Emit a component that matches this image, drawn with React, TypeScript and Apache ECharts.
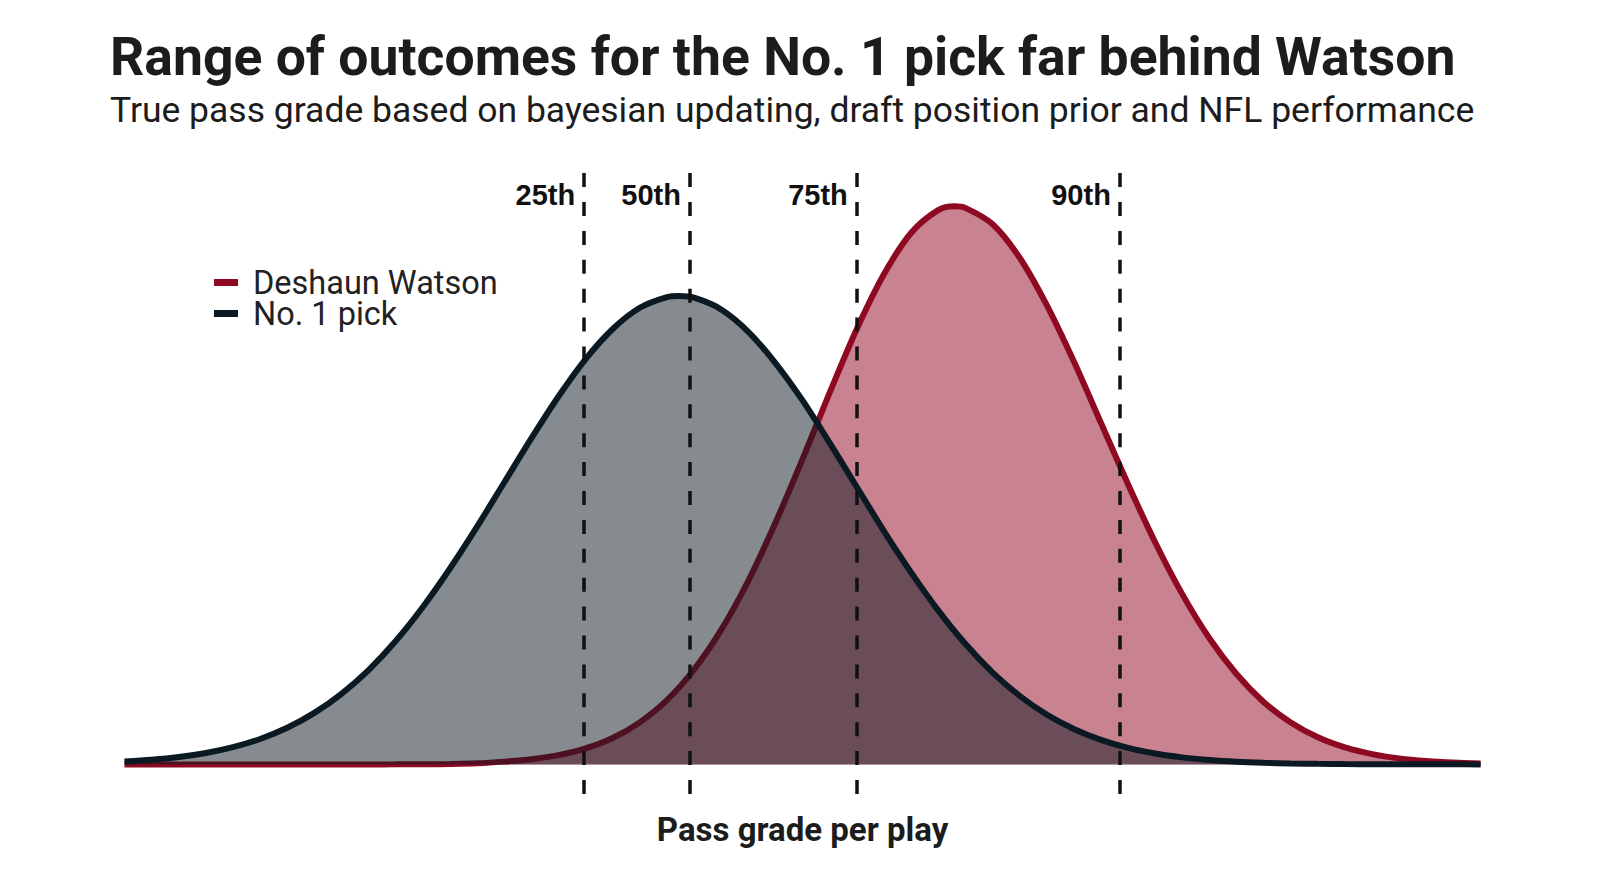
import React, { useEffect, useRef } from "react";
import * as echarts from "echarts";

const TITLE = "Range of outcomes for the No. 1 pick far behind Watson";
const SUBTITLE = "True pass grade based on bayesian updating, draft position prior and NFL performance";
const X_NAME = "Pass grade per play";
const SERIES_NAMES = ["Deshaun Watson", "No. 1 pick"];

// abstract pass-grade positions (hidden axis)
const watsonX = [
  0, 2, 4, 6, 8, 10, 12, 14, 16, 18, 20, 22, 24, 26, 28, 30, 32, 34, 36, 38, 40,
  42, 44, 46, 48, 50, 52, 54, 56, 58, 60, 61.2, 62, 64, 66, 68, 70, 72, 74, 76, 78, 80,
  82, 84, 86, 88, 90, 92, 94, 96, 98, 100,
];
const watsonDensity = [
  0, 0, 0, 0, 0, 0, 0, 0, 0, 0, 0.01, 0.03, 0.08, 0.2, 0.5, 0.93, 1.66, 2.86, 4.73, 7.53, 11.5,
  17.0, 24.1, 32.9, 43.3, 54.7, 66.6, 78.0, 87.8, 95.2, 99.3, 100, 99.7, 96.8, 90.8, 82.3, 72.2, 61.2, 50.2, 39.8, 30.5, 22.6,
  16.2, 11.2, 7.52, 4.87, 3.05, 1.85, 1.08, 0.61, 0.33, 0.18,
];

const pickX = [
  0, 2, 4, 6, 8, 10, 12, 14, 16, 18, 20, 22, 24, 26, 28, 30, 32, 34, 36, 38, 40, 40.9,
  42, 44, 46, 48, 50, 52, 54, 56, 58, 60, 62, 64, 66, 68, 70, 72, 74, 76, 78, 80,
  82, 84, 86, 88, 90, 92, 94, 96, 98, 100,
];
const pickDensity = [
  0.51, 0.83, 1.32, 2.04, 3.09, 4.56, 6.56, 9.23, 12.65, 16.9, 22.1, 28.2, 35.1, 42.6, 50.5, 58.4, 65.9, 72.6, 78.0, 81.8, 83.7, 83.9,
  83.6, 81.5, 77.5, 71.9, 65.2, 57.6, 49.7, 41.8, 34.4, 27.6, 21.6, 16.5, 12.3, 8.93, 6.34, 4.39, 2.96, 1.95, 1.26, 0.79,
  0.48, 0.29, 0.17, 0.1, 0.06, 0.03, 0.02, 0.01, 0.01, 0,
];

const percentileLabels = ["25th", "50th", "75th", "90th"];
const percentileX = [33.9, 41.7, 54.0, 73.4];
const percentileLabelY = 102;

const WATSON_LINE = "#8E0A22";
const WATSON_AREA = "rgba(147,5,33,0.5)";
const PICK_LINE = "#0B1922";
const PICK_AREA = "rgba(12,24,32,0.5)";

export default function App() {
  const ref = useRef<HTMLDivElement>(null);

  useEffect(() => {
    if (!ref.current) return;
    const chart = echarts.init(ref.current, undefined, { renderer: "svg" });
    const watsonData = watsonX.map((x, i) => [x, watsonDensity[i]]);
    const pickData = pickX.map((x, i) => [x, pickDensity[i]]);
    const labelData = percentileX.map((x, i) => ({
      value: [x, percentileLabelY],
      name: percentileLabels[i],
    }));

    chart.setOption({
      animation: false,
      backgroundColor: "#ffffff",
      graphic: [
        {
          type: "text",
          left: 110,
          top: 29.5,
          style: {
            text: TITLE,
            font: "bold 53.5px Roboto",
            fill: "#1c1c1c",
          },
        },
        {
          type: "text",
          left: 110,
          top: 92,
          style: {
            text: SUBTITLE,
            font: "35.5px Roboto",
            fill: "#1c1c1c",
          },
        },
      ],
      legend: {
        orient: "vertical",
        left: 214,
        top: 266,
        padding: 0,
        itemGap: -2,
        icon: "rect",
        itemWidth: 24,
        itemHeight: 7,
        textStyle: {
          fontFamily: "Roboto",
          fontSize: 32.5,
          color: "#222222",
          lineHeight: 30.5,
          padding: [0, 0, 0, 10],
        },
        data: [
          { name: SERIES_NAMES[0], itemStyle: { color: WATSON_LINE, opacity: 1 } },
          { name: SERIES_NAMES[1], itemStyle: { color: PICK_LINE, opacity: 1 } },
        ],
      },
      grid: { left: 124.5, right: 119.4, top: 171, bottom: 102 },
      xAxis: {
        type: "value",
        min: 0,
        max: 100,
        name: X_NAME,
        nameLocation: "middle",
        nameGap: 19,
        nameTextStyle: {
          fontFamily: "Roboto",
          fontWeight: "bold",
          fontSize: 33,
          color: "#1c1c1c",
        },
        axisLine: { show: false, onZero: false },
        axisTick: { show: false },
        axisLabel: { show: false },
        splitLine: { show: false },
      },
      yAxis: {
        type: "value",
        min: -5.3,
        max: 106.3,
        show: false,
        splitLine: { show: false },
      },
      series: [
        {
          name: SERIES_NAMES[0],
          type: "line",
          data: watsonData,
          smooth: 0.3,
          symbol: "none",
          lineStyle: { color: WATSON_LINE, width: 6 },
          itemStyle: { color: WATSON_LINE },
          areaStyle: { color: WATSON_AREA, opacity: 1 },
          z: 2,
        },
        {
          name: SERIES_NAMES[1],
          type: "line",
          data: pickData,
          smooth: 0.3,
          symbol: "none",
          lineStyle: { color: PICK_LINE, width: 6 },
          itemStyle: { color: PICK_LINE },
          areaStyle: { color: PICK_AREA, opacity: 1 },
          z: 3,
        },
        {
          name: "percentiles",
          type: "scatter",
          data: labelData,
          symbolSize: 0,
          itemStyle: { opacity: 1 },
          z: 5,
          silent: true,
          label: {
            show: true,
            position: "left",
            distance: 9,
            formatter: (p: any) => p.name,
            fontFamily: "Liberation Sans",
            fontWeight: "bold",
            fontSize: 29,
            color: "#111111",
          },
          markLine: {
            silent: true,
            symbol: "none",
            label: { show: false },
            lineStyle: { color: "#111111", width: 3.5, type: [14, 14.9], opacity: 1 },
            data: percentileX.map((x) => ({ xAxis: x })),
          },
        },
      ],
    });

    return () => chart.dispose();
  }, []);

  return (
    <div
      ref={ref}
      style={{ position: "fixed", left: 0, top: 0, width: 1600, height: 896 }}
    />
  );
}
